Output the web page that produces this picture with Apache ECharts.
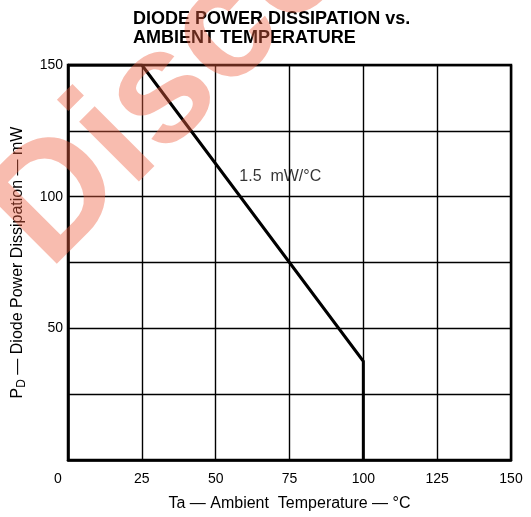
<!DOCTYPE html>
<html>
<head>
<meta charset="utf-8">
<script src="https://cdn.jsdelivr.net/npm/echarts@6/dist/echarts.min.js"></script>
<style>html,body{margin:0;padding:0;background:#fff}#c{width:531px;height:517px}</style>
</head>
<body>
<div id="c"></div>
<script>
// Data
var xTicks = [0, 25, 50, 75, 100, 125, 150];
var yTicks = [50, 100, 150];
var deratingCurve = [[0, 150], [25, 150], [100, 37.5], [100, 0]];
var slopeLabel = [[58, 107.5]];
var slopeText = '1.5  mW/°C';
var titleText = 'DIODE POWER DISSIPATION vs.\nAMBIENT TEMPERATURE';
var xName = 'Ta — Ambient  Temperature — °C';
var watermark = 'Discontinued';

var chart = echarts.init(document.getElementById('c'), null, {renderer: 'canvas'});
var font = 'Liberation Sans';
chart.setOption({
  backgroundColor: '#fff',
  animation: false,
  title: {
    text: titleText,
    left: 133, top: 10, padding: 0,
    textStyle: {fontFamily: font, fontWeight: 'bold', fontSize: 18, lineHeight: 19, color: '#000'}
  },
  grid: {left: 68, right: 20, top: 65, bottom: 51, show: true, borderColor: '#000', borderWidth: 2.5, containLabel: false},
  xAxis: {
    type: 'value', min: 0, max: 150, interval: 25,
    name: xName, nameLocation: 'middle', nameGap: 36,
    nameTextStyle: {fontFamily: font, fontSize: 16, color: '#000'},
    axisLine: {show: true, lineStyle: {color: '#000', width: 2.5}},
    axisTick: {show: false},
    axisLabel: {fontFamily: font, fontSize: 14, color: '#000', margin: 12,
      formatter: function (v) {
        if (xTicks.indexOf(v) < 0) return '';
        return v === 0 ? '{z|0}' : String(v);
      },
      rich: {z: {fontFamily: font, fontSize: 14, color: '#000', padding: [0, 20, 0, 0]}}},
    splitLine: {show: true, lineStyle: {color: '#000', width: 1.4}}
  },
  yAxis: {
    type: 'value', min: 0, max: 150, interval: 25,
    name: '{a|P}{b|D}{a| — Diode Power Dissipation — mW}', nameLocation: 'middle', nameGap: 40,
    nameTextStyle: {fontFamily: font, fontSize: 16, color: '#000',
      rich: {a: {fontFamily: font, fontSize: 16, color: '#000'},
             b: {fontFamily: font, fontSize: 12, color: '#000', padding: [8, 0, 0, 0]}}},
    axisLine: {show: true, lineStyle: {color: '#000', width: 2.5}},
    axisTick: {show: false},
    axisLabel: {fontFamily: font, fontSize: 14, color: '#000', margin: 5,
      formatter: function (v) { return yTicks.indexOf(v) >= 0 ? String(v) : ''; }},
    splitLine: {show: true, lineStyle: {color: '#000', width: 1.4}}
  },
  series: [
    {type: 'line', data: deratingCurve, symbol: 'none', lineStyle: {color: '#000', width: 3}, z: 3},
    {type: 'scatter', data: slopeLabel, symbolSize: 0, silent: true,
     label: {show: true, position: 'right', distance: 0, formatter: slopeText,
             fontFamily: font, fontSize: 16, color: '#000'}}
  ],
  graphic: [{
    type: 'text', x: 18, y: 240, rotation: Math.PI / 4, z: 100, silent: true,
    style: {text: watermark, fontFamily: font, fontWeight: 'bold', fontSize: 160,
            fill: 'rgba(238,95,65,0.42)', textAlign: 'left', textVerticalAlign: 'middle'}
  }]
});
</script>
</body>
</html>
